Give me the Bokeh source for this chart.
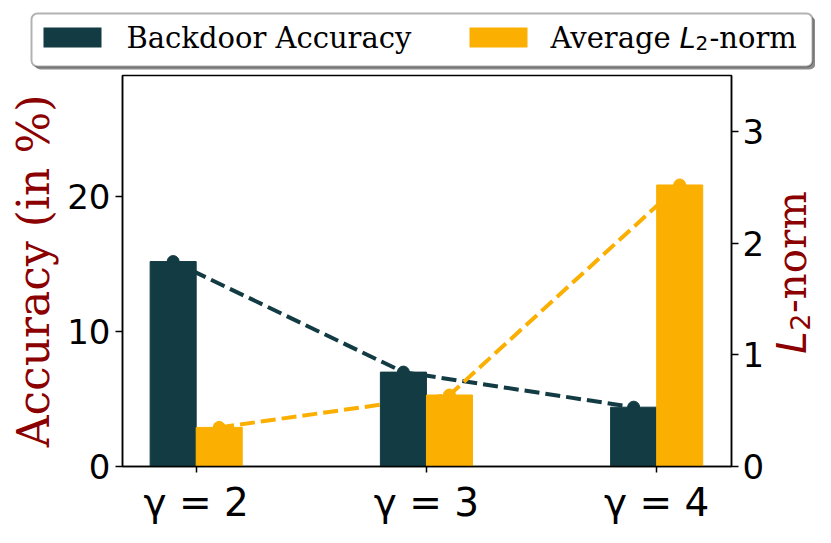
import numpy as np
from bokeh.plotting import figure
from bokeh.layouts import column, row
from bokeh.models import Range1d, LinearAxis, FixedTicker, BoxAnnotation
from bokeh.core.properties import value
from bokeh.embed import file_html
from bokeh.resources import INLINE

# ---- data ----
gammas = ["γ = 2", "γ = 3", "γ = 4"]
backdoor_acc = [15.2, 7.0, 4.4]          # Backdoor Accuracy (in %)
avg_l2 = [0.35, 0.64, 2.52]              # Average L2-norm
left_ticks = [0, 10, 20]
right_ticks = [0, 1, 2, 3]
series_names = ["Backdoor Accuracy", "Average"]
left_label = "Accuracy (in %)"

DARK = "#123B43"
ORANGE = "#FBAF00"
RED = "#8B0000"

x = np.arange(len(gammas))
bar_w = 0.2
x_dark = x - bar_w / 2
x_orange = x + bar_w / 2

TOTAL_W, TOTAL_H = 815, 527
LEG_H = 73
MAIN_W = 767
MAIN_H = TOTAL_H - LEG_H
B_TOP, B_BOTTOM = 2, 58            # borders of the main plot (frame 75..469)

# ---------------- main plot ----------------
p = figure(width=MAIN_W, height=MAIN_H, output_backend="svg", toolbar_location=None,
           x_range=Range1d(-0.32, 2.325), y_range=Range1d(0, 29),
           min_border_left=122, min_border_right=MAIN_W - 733,
           min_border_top=B_TOP, min_border_bottom=B_BOTTOM)
p.extra_y_ranges = {"l2": Range1d(0, 3.5)}
p.grid.visible = False
p.outline_line_color = "black"
p.outline_line_width = 1.5
p.background_fill_color = "white"
p.border_fill_color = "white"

# dashed trend lines with markers (under bars)
p.line(x_dark, backdoor_acc, line_color=DARK, line_width=4, line_dash="15 6")
p.scatter(x_dark, backdoor_acc, size=12, color=DARK)
p.line(x_orange, avg_l2, line_color=ORANGE, line_width=4, line_dash="15 6",
       y_range_name="l2")
p.scatter(x_orange, avg_l2, size=12, color=ORANGE, y_range_name="l2")

# bars
p.vbar(x=x_dark, top=backdoor_acc, width=bar_w, color=DARK)
p.vbar(x=x_orange, top=avg_l2, width=bar_w, color=ORANGE, y_range_name="l2")

raxis = LinearAxis(y_range_name="l2")
p.add_layout(raxis, "right")

for ax in [p.xaxis[0], p.yaxis[0], raxis]:
    ax.axis_line_color = "black"
    ax.axis_line_width = 1.5
    ax.major_tick_line_width = 1.5
    ax.major_tick_out = 7
    ax.major_tick_in = 0
    ax.minor_tick_out = 0
    ax.minor_tick_in = 0
    ax.major_label_text_font = "DejaVu Sans"
    ax.major_label_text_color = "black"
    ax.major_label_standoff = 5

p.xaxis.ticker = FixedTicker(ticks=[int(v) for v in x])
p.xaxis.major_label_overrides = {int(i): g for i, g in zip(x, gammas)}
p.xaxis.major_label_text_font_size = "39px"
p.xaxis.major_tick_out = 6
p.xaxis.major_label_standoff = 7

p.yaxis[0].ticker = FixedTicker(ticks=left_ticks)
p.yaxis[0].major_label_text_font_size = "34px"
p.yaxis[0].axis_label = left_label
p.yaxis[0].axis_label_text_font = "DejaVu Serif"
p.yaxis[0].axis_label_text_font_size = "44px"
p.yaxis[0].axis_label_text_font_style = "normal"
p.yaxis[0].axis_label_text_color = RED
p.yaxis[0].axis_label_standoff = 5

raxis.ticker = FixedTicker(ticks=right_ticks)
raxis.major_label_text_font_size = "34px"
raxis.major_label_standoff = 4

# ---------------- right label panel (L2-norm) ----------------
LW = TOTAL_W - MAIN_W
FRAME_H = MAIN_H - B_TOP - B_BOTTOM
q = figure(width=LW, height=MAIN_H, output_backend="svg", toolbar_location=None,
           x_range=Range1d(0, LW), y_range=Range1d(0, FRAME_H),
           min_border_left=0, min_border_right=0,
           min_border_top=B_TOP, min_border_bottom=B_BOTTOM,
           x_axis_location=None, y_axis_location=None)
q.grid.visible = False
q.outline_line_color = None
q.background_fill_color = "white"
q.border_fill_color = "white"

def rx(px):   # reference pixel x -> panel data x
    return px - MAIN_W

def ry(py):   # reference pixel y -> panel data y (frame spans 75..469)
    return (LEG_H + B_TOP + FRAME_H) - py

ang = np.pi / 2
q.text(x=[rx(791)], y=[ry(344)], text=["L"], angle=ang,
       text_font=value("DejaVu Sans"), text_font_style="italic",
       text_font_size=value("40.5px"), text_color=RED,
       text_align="center", text_baseline="middle")
q.text(x=[rx(799)], y=[ry(323.5)], text=["2"], angle=ang,
       text_font=value("DejaVu Sans"), text_font_size=value("27px"),
       text_color=RED, text_align="center", text_baseline="middle")
q.text(x=[rx(791)], y=[ry(253)], text=["-norm"], angle=ang,
       text_font=value("DejaVu Serif"), text_font_size=value("40.5px"),
       text_color=RED, text_align="center", text_baseline="middle")

# ---------------- legend panel ----------------
lg = figure(width=TOTAL_W, height=LEG_H, output_backend="svg", toolbar_location=None,
            x_range=Range1d(0, TOTAL_W), y_range=Range1d(0, LEG_H),
            min_border=0, x_axis_location=None, y_axis_location=None)
lg.grid.visible = False
lg.outline_line_color = None
lg.background_fill_color = "white"
lg.border_fill_color = "white"

def ly(py):
    return LEG_H - py

lg.add_layout(BoxAnnotation(left=34, right=815, top=ly(16), bottom=ly(69),
                            fill_color="#8c8c8c", fill_alpha=1.0, line_color=None,
                            border_radius=6, level="underlay"))
lg.add_layout(BoxAnnotation(left=31, right=812, top=ly(13), bottom=ly(66),
                            fill_color="white", fill_alpha=1.0, line_color="black",
                            line_width=2, border_radius=6, level="underlay"))
lg.quad(left=[43, 469], right=[101, 527], top=[ly(27)] * 2, bottom=[ly(47)] * 2,
        fill_color=[DARK, ORANGE], line_color=None)

TB = 37   # text anchor (measured offset for baseline)
lg.text(x=[126, 550], y=[ly(TB)] * 2, text=series_names,
        text_font=value("DejaVu Serif"), text_font_size=value("29px"),
        text_color="black", text_align="left", text_baseline="alphabetic")
lg.text(x=[679], y=[ly(TB)], text=["L"], text_font=value("DejaVu Sans"),
        text_font_style="italic", text_font_size=value("29px"),
        text_color="black", text_align="left", text_baseline="alphabetic")
lg.text(x=[695], y=[ly(TB + 5)], text=["2"], text_font=value("DejaVu Sans"),
        text_font_size=value("20px"),
        text_color="black", text_align="left", text_baseline="alphabetic")
lg.text(x=[709], y=[ly(TB)], text=["-norm"], text_font=value("DejaVu Serif"),
        text_font_size=value("29px"),
        text_color="black", text_align="left", text_baseline="alphabetic")

layout = column(lg, row(p, q))
open("out.html", "w").write(file_html(layout, INLINE))
